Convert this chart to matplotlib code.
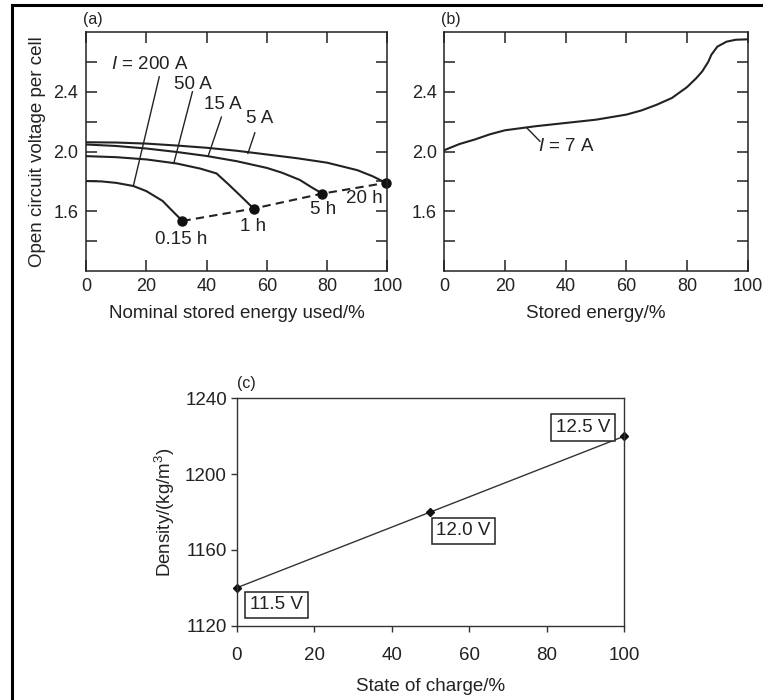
import numpy as np
import matplotlib
matplotlib.use("Agg")
import matplotlib.pyplot as plt
from matplotlib.lines import Line2D
from matplotlib.ticker import MultipleLocator, FixedLocator

plt.rcParams['font.family'] = ['Liberation Sans', 'DejaVu Sans']
plt.rcParams['mathtext.fontset'] = 'custom'
plt.rcParams['mathtext.rm'] = 'Liberation Sans'
plt.rcParams['mathtext.it'] = 'Liberation Sans:italic'
TXT = '#222222'
FS = 13.5   # labels and annotations
TFS = 13    # tick labels

# (a) discharge curves at different currents
x_200 = [0, 5, 10, 15.7, 20, 25.4, 29.2, 32]
y_200 = [1.802, 1.800, 1.790, 1.769, 1.735, 1.669, 1.591, 1.535]
x_50 = [0, 10, 20, 30, 38, 43.3, 47, 51, 55.6]
y_50 = [1.969, 1.962, 1.947, 1.920, 1.885, 1.853, 1.785, 1.708, 1.618]
x_15 = [0, 10, 20, 30, 40, 50, 60, 65, 70.9, 75, 78.4]
y_15 = [2.047, 2.037, 2.020, 1.997, 1.970, 1.935, 1.890, 1.858, 1.810, 1.758, 1.718]
x_5 = [0, 10, 20, 30, 40, 50, 60, 70, 80, 90, 95, 99.5]
y_5 = [2.062, 2.060, 2.053, 2.040, 2.025, 2.005, 1.980, 1.955, 1.925, 1.875, 1.835, 1.790]
curve_labels = ['$I$ = 200 A', '50 A', '15 A', '5 A']
end_hours = ['0.15 h', '1 h', '5 h', '20 h']

# (b) charge curve
x_b = [0, 5, 10, 15, 20, 30, 40, 50, 60, 65, 70, 75, 80, 83, 85, 87, 88, 90, 93, 96, 100]
y_b = [2.009, 2.050, 2.080, 2.115, 2.142, 2.169, 2.191, 2.213, 2.247, 2.275, 2.313,
       2.358, 2.431, 2.490, 2.536, 2.600, 2.647, 2.702, 2.735, 2.748, 2.751]

# (c) density vs state of charge
soc = [0, 50, 100]
density = [1140, 1180, 1220]
volt_labels = ['11.5 V', '12.0 V', '12.5 V']

fig = plt.figure(figsize=(7.63, 7.0), dpi=100)
W, H = 763, 700


def px_axes(l, t, r, b):
    return fig.add_axes([l / W, 1 - b / H, (r - l) / W, (b - t) / H])


def style_volt_axes(ax):
    ax.set_xlim(0, 100)
    ax.set_ylim(1.2, 2.8)
    ax.xaxis.set_major_locator(MultipleLocator(20))
    ax.yaxis.set_major_locator(FixedLocator([1.6, 2.0, 2.4]))
    ax.yaxis.set_minor_locator(FixedLocator([1.4, 1.8, 2.2, 2.6]))
    ax.tick_params(which='both', direction='in', length=8, width=1.1, color='#222',
                   top=True, right=True, labelsize=TFS, labelcolor=TXT)
    ax.tick_params(axis='x', pad=5)
    ax.tick_params(axis='y', pad=5.5)
    for s in ax.spines.values():
        s.set_linewidth(1.1)
        s.set_color('#222')


lw = 1.5
ax_a = px_axes(86, 32, 387.5, 271)
style_volt_axes(ax_a)
curves = [(x_200, y_200), (x_50, y_50), (x_15, y_15), (x_5, y_5)]
for xs, ys in curves:
    ax_a.plot(xs, ys, color='#222', lw=lw)
ends_x = [c[0][-1] for c in curves]
ends_y = [c[1][-1] for c in curves]
ax_a.plot(ends_x, ends_y, color='#222', lw=1.5, ls=(0, (4, 2.5)))
ax_a.plot(ends_x, ends_y, 'o', color='#111', ms=6.5, clip_on=False)

# leader lines: label position, tip on the curve
label_pos = [(21, 2.585), (35.3, 2.45), (45.3, 2.315), (57.5, 2.22)]
leader_from = [(24.3, 2.50), (35.3, 2.40), (44.9, 2.23), (56.0, 2.125)]
leader_to = [(15.7, 1.769), (29.1, 1.920), (40.5, 1.969), (53.7, 1.987)]
for lab, p, a, b in zip(curve_labels, label_pos, leader_from, leader_to):
    ax_a.text(p[0], p[1], lab, ha='center', va='center', fontsize=FS, color=TXT)
    ax_a.plot([a[0], b[0]], [a[1], b[1]], color='#222', lw=1.0)

hour_pos = [(31.7, 1.41), (55.4, 1.50), (78.6, 1.61), (92.4, 1.688)]
for lab, p in zip(end_hours, hour_pos):
    ax_a.text(p[0], p[1], lab, ha='center', va='center', fontsize=FS, color=TXT)

ax_a.set_xlabel('Nominal stored energy used/%', fontsize=FS, color=TXT, labelpad=7.5)
ax_a.set_ylabel('Open circuit voltage per cell', fontsize=FS, color=TXT, labelpad=5)
ax_a.text(-0.01, 1.02, '(a)', transform=ax_a.transAxes, fontsize=11.5, color=TXT,
          ha='left', va='bottom')

ax_b = px_axes(444.3, 32, 747.7, 271)
style_volt_axes(ax_b)
ax_b.plot(x_b, y_b, color='#222', lw=lw)
ax_b.text(40.3, 2.035, '$I$ = 7 A', ha='center', va='center', fontsize=FS, color=TXT)
ax_b.plot([27.2, 31.5], [2.158, 2.069], color='#222', lw=1.0)
ax_b.set_xlabel('Stored energy/%', fontsize=FS, color=TXT, labelpad=7.5)
ax_b.text(-0.01, 1.02, '(b)', transform=ax_b.transAxes, fontsize=11.5, color=TXT,
          ha='left', va='bottom')

ax_c = px_axes(236.7, 398.3, 624.3, 625.7)
ax_c.set_xlim(0, 100)
ax_c.set_ylim(1120, 1240)
ax_c.xaxis.set_major_locator(MultipleLocator(20))
ax_c.yaxis.set_major_locator(MultipleLocator(40))
ax_c.tick_params(direction='out', length=4.5, width=1.0, color='#333',
                 labelsize=TFS + 0.5, labelcolor=TXT)
ax_c.tick_params(axis='x', pad=11)
ax_c.tick_params(axis='y', pad=2.5)
for s in ax_c.spines.values():
    s.set_linewidth(1.0)
    s.set_color('#333')
ax_c.plot(soc, density, color='#333', lw=1.0, marker='D', ms=4.5,
          mfc='#111', mec='#111', clip_on=False)
box_pos = [(10.3, 1131), (58.5, 1170), (89.4, 1224.5)]
for lab, p in zip(volt_labels, box_pos):
    ax_c.text(p[0], p[1], lab, ha='center', va='center', fontsize=FS, color=TXT,
              bbox=dict(boxstyle='square,pad=0.25', fc='white', ec='#222', lw=1.1))
ax_c.set_xlabel('State of charge/%', fontsize=FS, color=TXT, labelpad=10)
ax_c.set_ylabel('Density/(kg/m$^3$)', fontsize=FS, color=TXT, labelpad=6)
ax_c.text(0.0, 1.03, '(c)', transform=ax_c.transAxes, fontsize=11.5, color=TXT,
          ha='left', va='bottom')

# frame lines at top and left of the page
fig.add_artist(Line2D([12 / W, 12 / W], [0, 1 - 5 / H], color='black', lw=2.2))
fig.add_artist(Line2D([12 / W, 1], [1 - 5 / H, 1 - 5 / H], color='black', lw=2.2))

fig.savefig('out.png', dpi=100)
